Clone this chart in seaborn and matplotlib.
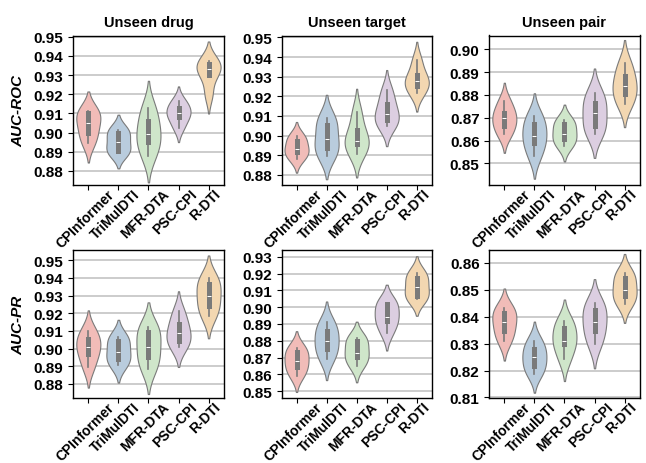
import matplotlib
matplotlib.use("Agg")
import matplotlib.pyplot as plt
import matplotlib.transforms as mtransforms
import seaborn as sns
import pandas as pd
import numpy as np

plt.rcParams['font.family'] = ['Liberation Sans', 'DejaVu Sans']
plt.rcParams['font.weight'] = 'bold'

models = ["CPInformer", "TriMulDTI", "MFR-DTA", "PSC-CPI", "R-DTI"]
settings = ["Unseen drug", "Unseen target", "Unseen pair"]
metrics = ["AUC-ROC", "AUC-PR"]

# five runs per model (order follows `models`)
roc_drug = [[0.8945, 0.9000, 0.9050, 0.9100, 0.9113],
            [0.8892, 0.8905, 0.8950, 0.9000, 0.9014],
            [0.8880, 0.8950, 0.8990, 0.9060, 0.9130],
            [0.9026, 0.9080, 0.9100, 0.9130, 0.9165],
            [0.9200, 0.9300, 0.9330, 0.9360, 0.9375]]
roc_target = [[0.8880, 0.8914, 0.8930, 0.8974, 0.9000],
              [0.8895, 0.8935, 0.8980, 0.9055, 0.9090],
              [0.8905, 0.8957, 0.8970, 0.9026, 0.9120],
              [0.9050, 0.9077, 0.9110, 0.9163, 0.9230],
              [0.9215, 0.9253, 0.9280, 0.9308, 0.9385]]
roc_pair = [[0.8627, 0.8664, 0.8700, 0.8722, 0.8773],
            [0.8532, 0.8591, 0.8620, 0.8671, 0.8708],
            [0.8576, 0.8605, 0.8630, 0.8671, 0.8690],
            [0.8630, 0.8664, 0.8720, 0.8766, 0.8810],
            [0.8760, 0.8803, 0.8840, 0.8883, 0.8940]]
pr_drug = [[0.8894, 0.8969, 0.9010, 0.9054, 0.9101],
           [0.8905, 0.8941, 0.8980, 0.9044, 0.9065],
           [0.8884, 0.8950, 0.9010, 0.9091, 0.9120],
           [0.9010, 0.9044, 0.9090, 0.9138, 0.9210],
           [0.9185, 0.9242, 0.9300, 0.9364, 0.9400]]
pr_target = [[0.8593, 0.8642, 0.8680, 0.8731, 0.8760],
             [0.8691, 0.8751, 0.8800, 0.8859, 0.8909],
             [0.8652, 0.8701, 0.8730, 0.8800, 0.8815],
             [0.8849, 0.8919, 0.8940, 0.9017, 0.9027],
             [0.9047, 0.9067, 0.9120, 0.9175, 0.9205]]
pr_pair = [[0.8309, 0.8346, 0.8380, 0.8413, 0.8432],
           [0.8188, 0.8217, 0.8250, 0.8278, 0.8311],
           [0.8241, 0.8297, 0.8310, 0.8358, 0.8383],
           [0.8297, 0.8346, 0.8380, 0.8426, 0.8450],
           [0.8446, 0.8475, 0.8500, 0.8542, 0.8563]]

panels = [[roc_drug, roc_target, roc_pair], [pr_drug, pr_target, pr_pair]]

ylims = [[(0.8726, 0.9507), (0.8748, 0.9510), (0.8405, 0.9061)],
         [(0.8720, 0.9558), (0.8460, 0.9340), (0.8098, 0.8647)]]
yticks = [[np.arange(0.88, 0.951, 0.01), np.arange(0.88, 0.951, 0.01), np.arange(0.85, 0.901, 0.01)],
          [np.arange(0.88, 0.951, 0.01), np.arange(0.85, 0.931, 0.01), np.arange(0.81, 0.861, 0.01)]]

fig = plt.figure(figsize=(6.46, 4.64), dpi=100)
W, H = 646, 464
lefts = [73.3, 281.5, 489.3]
tops = [36.5, 251]
bottoms = [186, 399]
width = 150.3
shift = mtransforms.ScaledTranslation(-3 / 100, 0, fig.dpi_scale_trans)

for r in range(2):
    for c in range(3):
        ax = fig.add_axes([lefts[c] / W, 1 - bottoms[r] / H, width / W, (bottoms[r] - tops[r]) / H])
        vals = panels[r][c]
        df = pd.DataFrame({
            "model": [m for m, v in zip(models, vals) for _ in v],
            "value": [x for v in vals for x in v],
        })
        ax.set_axisbelow(True)
        ax.yaxis.grid(True, color="#c8c8c8", linewidth=1.3)
        sns.violinplot(data=df, x="model", y="value", hue="model", order=models,
                       hue_order=models, palette="Pastel1", legend=False,
                       inner="box", linewidth=0.8, ax=ax)
        ax.set_ylim(*ylims[r][c])
        ax.set_yticks(yticks[r][c])
        ax.set_yticklabels([f"{t:.2f}" for t in yticks[r][c]], fontsize=11, fontweight="bold")
        ax.set_xticks(range(len(models)))
        ax.set_xticklabels(models, rotation=45, fontsize=10, fontweight="bold")
        ax.tick_params(axis="x", pad=-2.5)
        for lab in ax.get_xticklabels():
            lab.set_transform(lab.get_transform() + shift)
        ax.set_xlabel("")
        ax.set_ylabel("")
        for s in ax.spines.values():
            s.set_color("black")
            s.set_linewidth(1.0)
        if r == 0:
            ax.set_title(settings[c], fontsize=10.5, fontweight="bold", pad=7)
        if c == 0:
            ax.set_ylabel(metrics[r], fontsize=11, fontweight="bold", style="italic", labelpad=6)

fig.savefig("out.png", dpi=100)
